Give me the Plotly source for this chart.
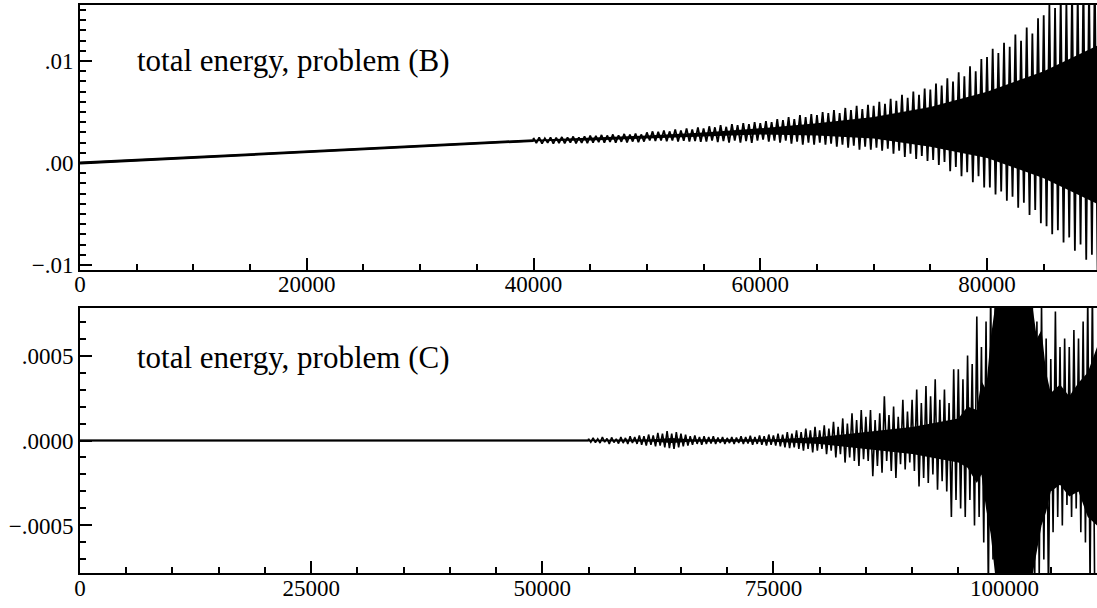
import plotly.graph_objects as go

# ---------------- data: problem (B) ----------------
top_drift_x = [0, 10000, 20000, 30000, 40000]
top_drift_y = [0.0, 0.00055, 0.0011, 0.00165, 0.0022]

top_osc_x0 = 40000
top_osc_step = 500
top_upper = [
    0.00245, 0.0025, 0.00242, 0.00252, 0.00248, 0.00255, 0.0025, 0.0026, 0.00252, 0.00262,
    0.0027, 0.00265, 0.00275, 0.0027, 0.0028, 0.00272, 0.00285, 0.00278, 0.0029, 0.0028,
    0.003, 0.0031, 0.00305, 0.0032, 0.0031, 0.0033, 0.00318, 0.0034, 0.0033, 0.0035,
    0.0034, 0.0036, 0.0035, 0.0037, 0.00355, 0.0038, 0.0037, 0.0039, 0.0038, 0.004,
    0.0039, 0.0041, 0.004, 0.0043, 0.0042, 0.0045, 0.0043, 0.0047, 0.0045, 0.0048,
    0.0047, 0.005, 0.0049, 0.0052, 0.0049, 0.0054, 0.0052, 0.0056, 0.0053, 0.0057,
    0.0056, 0.006, 0.0058, 0.0063, 0.0061, 0.0067, 0.0064, 0.007, 0.0067, 0.0073,
    0.0072, 0.0078, 0.0076, 0.0083, 0.008, 0.0089, 0.0085, 0.0095, 0.009, 0.0102,
    0.0104, 0.0112, 0.0108, 0.0118, 0.0114, 0.0126, 0.012, 0.0133, 0.0127, 0.0142,
    0.0145, 0.0155, 0.0152, 0.0165, 0.016, 0.0172, 0.0168, 0.018, 0.0175, 0.0188,
]
top_lower = [
    0.00195, 0.0019, 0.00198, 0.0019, 0.00196, 0.00192, 0.002, 0.00192, 0.00198, 0.00194,
    0.002, 0.00205, 0.00198, 0.00206, 0.002, 0.00208, 0.00202, 0.0021, 0.00204, 0.0021,
    0.0022, 0.00215, 0.0022, 0.00212, 0.0022, 0.0021, 0.00218, 0.0021, 0.00216, 0.00208,
    0.0021, 0.0022, 0.00205, 0.00215, 0.002, 0.0022, 0.002, 0.00215, 0.00198, 0.0022,
    0.0023, 0.0021, 0.0022, 0.002, 0.0022, 0.0019, 0.0021, 0.0018, 0.002, 0.0018,
    0.002, 0.0018, 0.0019, 0.0016, 0.0018, 0.0015, 0.0017, 0.0013, 0.0016, 0.0013,
    0.0015, 0.0012, 0.0014, 0.0009, 0.0012, 0.0006, 0.0009, 0.0004, 0.0007, 0.0002,
    0.0003, -0.0002, 0.0001, -0.0008, -0.0004, -0.0013, -0.0009, -0.0019, -0.0013, -0.0024,
    -0.0024, -0.0031, -0.0028, -0.0037, -0.0033, -0.0044, -0.0039, -0.0051, -0.0046, -0.0059,
    -0.0062, -0.007, -0.0066, -0.0078, -0.0073, -0.0086, -0.008, -0.0095, -0.009, -0.0105,
]
top_core_x = [40000, 45000, 50000, 55000, 60000, 65000, 70000, 75000, 80000, 85000, 89700]
top_core_hi = [0.00228, 0.0025, 0.0027, 0.003, 0.0034, 0.0039, 0.0045, 0.0055, 0.007, 0.009, 0.0115]
top_core_lo = [0.00212, 0.0022, 0.0024, 0.0026, 0.0028, 0.0027, 0.0024, 0.0016, 0.0005, -0.0015, -0.004]

top_xtick_vals = [0, 20000, 40000, 60000, 80000]
top_xtick_text = ["0", "20000", "40000", "60000", "80000"]
top_ytick_vals = [-0.01, 0.0, 0.01]
top_ytick_text = ["\u2212.01", ".00", ".01"]

# ---------------- data: problem (C) ----------------
bot_flat_x = [0, 20000, 40000, 55000]
bot_flat_y = [0.0, 0.0, 0.0, 0.0]

bot_osc_x0 = 55000
bot_osc_step = 500
bot_upper = [
    0.00001, 0.000015, 0.00001, 0.00002, 0.000012, 0.000018, 0.00001, 0.00002, 0.000015, 0.000025,
    0.00002, 0.00003, 0.000025, 0.000035, 0.00003, 0.000045, 0.00004, 0.000055, 0.00004, 0.00005,
    0.00004, 0.000035, 0.000025, 0.00003, 0.00002, 0.000025, 0.00002, 0.000025, 0.000018, 0.00002,
    0.000015, 0.00002, 0.000018, 0.000025, 0.00002, 0.000028, 0.00002, 0.00003, 0.000025, 0.000035,
    0.00003, 0.00004, 0.000035, 0.00005, 0.00004, 0.00006, 0.00005, 0.00007, 0.00006, 0.00008,
    0.00006, 0.00009, 0.00007, 0.00011, 0.00008, 0.00013, 0.0001, 0.00016, 0.00012, 0.00018,
    0.00014, 0.00018, 0.00012, 0.00016, 0.00026, 0.00015, 0.0002, 0.00014, 0.00024, 0.00017,
    0.00024, 0.0003, 0.00022, 0.00032, 0.00026, 0.00036, 0.00024, 0.0003, 0.00022, 0.00042,
    0.00042, 0.00036, 0.0005, 0.00045, 0.00073, 0.00055, 0.0007, 0.0009, 0.0009, 0.00095,
    0.0009, 0.001, 0.00085, 0.0009, 0.0008, 0.0009, 0.00085, 0.0007, 0.0008, 0.0006,
    0.00048, 0.00076, 0.00055, 0.0006, 0.00055, 0.00065, 0.0006, 0.0007, 0.00085, 0.0009,
]
bot_lower = [
    -0.00001, -0.000012, -0.000015, -0.00001, -0.00002, -0.000012, -0.000018, -0.000015, -0.00002, -0.000015,
    -0.00002, -0.000025, -0.00003, -0.000025, -0.000035, -0.00003, -0.00004, -0.000045, -0.00005, -0.00004,
    -0.000035, -0.00003, -0.000025, -0.00002, -0.000025, -0.00002, -0.000018, -0.00002, -0.000015, -0.00002,
    -0.000015, -0.00002, -0.000015, -0.00002, -0.000018, -0.000025, -0.00002, -0.000025, -0.00003, -0.000025,
    -0.00003, -0.000035, -0.00004, -0.000045, -0.00004, -0.00005, -0.00006, -0.00005, -0.00007, -0.00006,
    -0.00005, -0.00008, -0.00006, -0.0001, -0.00008, -0.00013, -0.0001, -0.00012, -0.00015, -0.00011,
    -0.00012, -0.00021, -0.00015, -0.00019, -0.00012, -0.00018, -0.00022, -0.00014, -0.00017, -0.00013,
    -0.00018, -0.00027, -0.00022, -0.00025, -0.0002, -0.00029, -0.00024, -0.0003, -0.00045, -0.00035,
    -0.0004, -0.00045, -0.00035, -0.0005, -0.00045, -0.0006, -0.0009, -0.0007, -0.0009, -0.00085,
    -0.0009, -0.00085, -0.001, -0.0008, -0.0009, -0.00085, -0.0009, -0.0008, -0.0007, -0.0009,
    -0.00054, -0.00045, -0.0005, -0.00038, -0.00045, -0.0004, -0.00054, -0.0006, -0.00085, -0.0009,
]
bot_core_x = [55000, 62000, 64000, 66000, 75000, 80000, 85000, 90000, 95000, 96000, 97000, 97500, 98000,
              98500, 99000, 103000, 103500, 104000, 104500, 105000, 106000, 107000, 108000, 109000, 110000]
bot_core_hi = [0.000005, 0.000008, 0.000015, 0.000008, 0.000008, 0.00002, 0.00005, 0.00008, 0.00013, 0.0002,
               0.00018, 0.00035, 0.0003, 0.0006, 0.0008, 0.0008, 0.0006, 0.00065, 0.0004, 0.00028, 0.00033,
               0.00026, 0.00034, 0.0004, 0.00055]
bot_core_lo = [-0.000005, -0.000008, -0.000015, -0.000008, -0.000008, -0.00002, -0.00005, -0.00008, -0.00013,
               -0.00016, -0.00025, -0.0002, -0.0004, -0.00055, -0.0008, -0.0008, -0.00065, -0.0005, -0.00042,
               -0.0003, -0.00026, -0.00033, -0.0003, -0.00045, -0.0005]

bot_xtick_vals = [0, 25000, 50000, 75000, 100000]
bot_xtick_text = ["0", "25000", "50000", "75000", "100000"]
bot_ytick_vals = [-0.0005, 0.0, 0.0005]
bot_ytick_text = ["\u2212.0005", ".0000", ".0005"]


def zigzag(x0, step, upper, lower):
    xs, ys = [], []
    for i, (u, l) in enumerate(zip(upper, lower)):
        x = x0 + step * i
        xs += [x, x + step / 2]
        ys += [u, l]
    return xs, ys


W, H = 1097, 608
FONT = "Liberation Serif, Times New Roman, serif"

fig = go.Figure()

# ---- top panel ----
fig.add_trace(go.Scatter(x=top_core_x, y=top_core_lo, mode="lines", line=dict(width=0, color="black"),
                         showlegend=False, xaxis="x", yaxis="y", hoverinfo="skip"))
fig.add_trace(go.Scatter(x=top_core_x, y=top_core_hi, mode="lines", line=dict(width=0, color="black"),
                         fill="tonexty", fillcolor="black", showlegend=False, xaxis="x", yaxis="y", hoverinfo="skip"))
zx, zy = zigzag(top_osc_x0, top_osc_step, top_upper, top_lower)
fig.add_trace(go.Scatter(x=top_drift_x + zx, y=top_drift_y + zy, mode="lines", line=dict(color="black", width=1.8),
                         showlegend=False, xaxis="x", yaxis="y"))
fig.add_trace(go.Scatter(x=top_drift_x, y=top_drift_y, mode="lines", line=dict(color="black", width=2.8),
                         showlegend=False, xaxis="x", yaxis="y"))

# ---- bottom panel ----
fig.add_trace(go.Scatter(x=bot_core_x, y=bot_core_lo, mode="lines", line=dict(width=0, color="black"),
                         showlegend=False, xaxis="x2", yaxis="y2", hoverinfo="skip"))
fig.add_trace(go.Scatter(x=bot_core_x, y=bot_core_hi, mode="lines", line=dict(width=0, color="black"),
                         fill="tonexty", fillcolor="black", showlegend=False, xaxis="x2", yaxis="y2", hoverinfo="skip"))
bx, by = zigzag(bot_osc_x0, bot_osc_step, bot_upper, bot_lower)
fig.add_trace(go.Scatter(x=bot_flat_x + bx, y=bot_flat_y + by, mode="lines", line=dict(color="black", width=1.6),
                         showlegend=False, xaxis="x2", yaxis="y2"))
fig.add_trace(go.Scatter(x=bot_flat_x, y=bot_flat_y, mode="lines", line=dict(color="black", width=2),
                         showlegend=False, xaxis="x2", yaxis="y2"))

x_dom = [80 / W, 1.0]
top_dom = [1 - 270 / H, 1 - 5 / H]
bot_dom = [1 - 573 / H, 1 - 308 / H]

axis_common = dict(showline=True, linecolor="black", linewidth=2, mirror=True,
                   ticks="inside", ticklen=12, tickwidth=1.5, tickcolor="black",
                   showgrid=False, zeroline=False, tickmode="array",
                   tickfont=dict(family=FONT, size=23, color="black"), automargin=False)

minor_common = dict(tickmode="linear", tick0=0, ticks="inside", ticklen=6, tickwidth=1.5, tickcolor="black")

fig.update_layout(
    width=W, height=H,
    margin=dict(l=0, r=0, t=0, b=0),
    paper_bgcolor="white", plot_bgcolor="white",
    showlegend=False,
    xaxis=dict(domain=x_dom, anchor="y", range=[0, 89700], tickvals=top_xtick_vals, ticktext=top_xtick_text,
               minor=dict(dtick=5000, **minor_common), ticklabelstandoff=-8, **axis_common),
    yaxis=dict(domain=top_dom, anchor="x", range=[-0.0105, 0.0155], tickvals=top_ytick_vals, ticktext=top_ytick_text,
               minor=dict(dtick=0.001, **minor_common), **axis_common),
    xaxis2=dict(domain=x_dom, anchor="y2", range=[0, 110000], tickvals=bot_xtick_vals, ticktext=bot_xtick_text,
                minor=dict(dtick=5000, **minor_common), ticklabelstandoff=-7, **axis_common),
    yaxis2=dict(domain=bot_dom, anchor="x2", range=[-0.00078, 0.00078], tickvals=bot_ytick_vals, ticktext=bot_ytick_text,
                minor=dict(dtick=0.0001, **minor_common), **axis_common),
    annotations=[
        dict(text="total energy, problem (B)", xref="paper", yref="paper", x=135 / W, y=1 - 60 / H,
             xanchor="left", yanchor="middle", showarrow=False, font=dict(family=FONT, size=31, color="black")),
        dict(text="total energy, problem (C)", xref="paper", yref="paper", x=135 / W, y=1 - 357 / H,
             xanchor="left", yanchor="middle", showarrow=False, font=dict(family=FONT, size=31, color="black")),
    ],
)

fig.write_html("out.html")
